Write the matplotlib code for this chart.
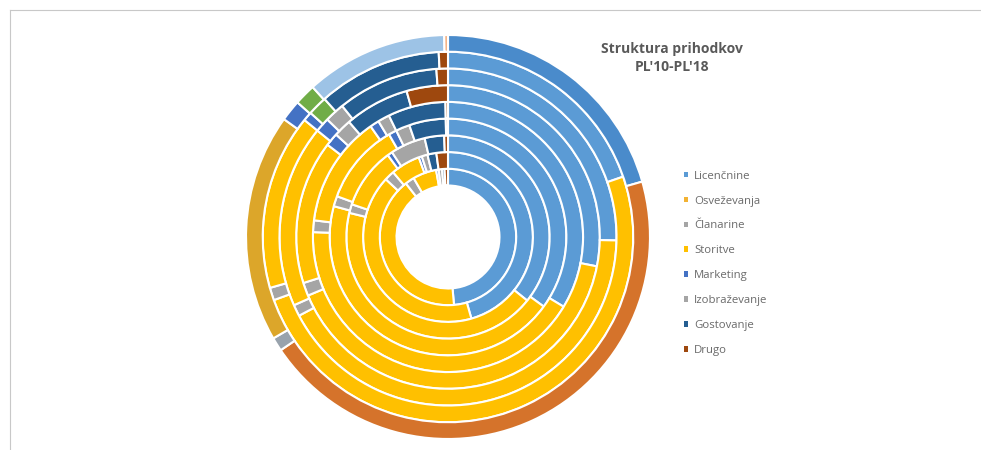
import matplotlib
matplotlib.use('Agg')
import matplotlib.pyplot as plt
from matplotlib.lines import Line2D
from matplotlib.patches import Patch

#
# DATA
#
categories = ['Licenčnine', 'Osveževanja', 'Članarine', 'Storitve',
              'Marketing', 'Izobraževanje', 'Gostovanje', 'Drugo']
years = ["PL'10", "PL'11", "PL'12", "PL'13", "PL'14",
         "PL'15", "PL'16", "PL'17", "PL'18"]

# shares in %, innermost ring first
pl10 = [48.6, 40.8, 2.2, 5.6, 0.6, 0.8, 0.6, 0.8]
pl11 = [45.6, 41.4, 1.9, 5.6, 0.6, 1.1, 1.7, 2.2]
pl12 = [35.8, 43.1, 1.4, 9.7, 0.8, 5.6, 3.1, 0.6]
pl13 = [35.0, 44.2, 1.4, 11.1, 1.1, 1.9, 5.0, 0.3]
pl14 = [33.6, 41.9, 1.4, 13.3, 1.1, 1.4, 6.9, 0.3]
pl15 = [28.1, 40.6, 1.4, 15.3, 1.4, 1.9, 6.9, 4.4]
pl16 = [25.3, 41.9, 1.1, 17.5, 1.4, 1.9, 9.7, 1.1]
pl17 = [19.7, 49.7, 1.1, 15.3, 0.8, 1.7, 10.8, 0.8]
pl18 = [20.6, 45.0, 1.1, 18.3, 1.7, 1.7, 11.4, 0.3]
rings = [pl10, pl11, pl12, pl13, pl14, pl15, pl16, pl17, pl18]

inner_colors = ['#5B9BD5', '#FFC000', '#A5A5A5', '#FFC000',
                '#4472C4', '#A5A5A5', '#255E91', '#9E480E']
pl17_colors = ['#5B9BD5', '#FFC000', '#A5A5A5', '#FFC000',
               '#4472C4', '#70AD47', '#255E91', '#9E480E']
outer_colors = ['#4A8BCB', '#D5732B', '#98A2AC', '#DCA62A',
                '#4472C4', '#70AD47', '#9DC3E6', '#F4B183']
legend_colors = ['#5B9BD5', '#F2B233', '#A5A5A5', '#FFC000',
                 '#4472C4', '#A5A5A5', '#255E91', '#9E480E']

#
# FIGURE
#
fig = plt.figure(figsize=(9.81, 4.5), dpi=100)

# pie centre at (448, 237) px, radius ~204 px
cx, cy, R = 448, 237, 204
ax = fig.add_axes([(cx - R) / 981, (450 - cy - R) / 450, 2 * R / 981, 2 * R / 450])

r_in = 52 / R
w = (1 - r_in) / len(rings)

for i, vals in enumerate(rings):
    if i == len(rings) - 1:
        cols = outer_colors
    elif i == len(rings) - 2:
        cols = pl17_colors
    else:
        cols = inner_colors
    radius = r_in + (i + 1) * w
    ax.pie(vals, radius=radius, colors=cols, startangle=90, counterclock=False,
           wedgeprops=dict(width=w, edgecolor='white', linewidth=1.5))

ax.set_xlim(-1.01, 1.01)
ax.set_ylim(-1.01, 1.01)
ax.set_aspect('equal')
ax.axis('off')

# title
fig.text(672 / 981, 1 - 58 / 450, "Struktura prihodkov\nPL'10-PL'18", ha='center', va='center',
         fontsize=10, fontweight='bold', color='#595959', family='Open Sans', linespacing=1.3)

# legend
handles = [Patch(facecolor=c, edgecolor='none') for c in legend_colors]
leg = fig.legend(handles, categories, loc='upper left', bbox_to_anchor=(678 / 981, 1 - 165 / 450),
                 frameon=False, fontsize=8.2, handlelength=0.4, handleheight=0.4,
                 handletextpad=0.5, labelspacing=1.22, borderpad=0)
for t in leg.get_texts():
    t.set_color('#6A6A6A')
    t.set_family('Open Sans')

# thin border (top and left)
fig.add_artist(Line2D([10 / 981, 1], [1 - 10 / 450, 1 - 10 / 450], color='#C8C8C8', lw=0.8))
fig.add_artist(Line2D([10 / 981, 10 / 981], [0, 1 - 10 / 450], color='#C8C8C8', lw=0.8))

fig.savefig('out.png', dpi=100, facecolor='white')
